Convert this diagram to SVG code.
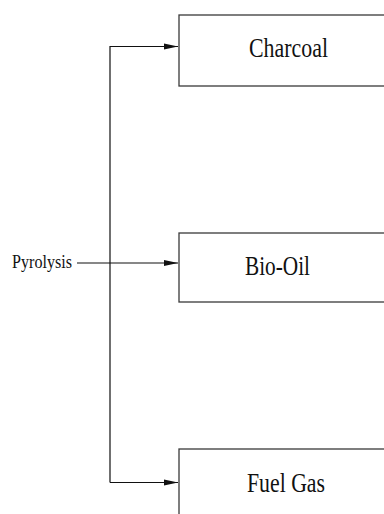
<svg xmlns="http://www.w3.org/2000/svg" width="384" height="514" viewBox="0 0 384 514">
<defs>
<style>
.box{fill:#fff;stroke:#3a3a3a;stroke-width:1.3}
.lbl{font-family:"Liberation Serif","Times New Roman",serif;font-size:27px;fill:#111}
.src{font-family:"Liberation Serif","Times New Roman",serif;font-size:19px;fill:#111}
.ln{fill:none;stroke:#111;stroke-width:1.2}
</style>
<marker id="ah" markerWidth="14" markerHeight="7" refX="14" refY="3.5" orient="auto" markerUnits="userSpaceOnUse">
<path d="M0,0.5 L14,3.5 L0,6.5 Z" fill="#111"/>
</marker>
</defs>
<rect width="384" height="514" fill="#fff"/>
<g id="charcoal">
<rect class="box" x="179" y="15" width="220" height="71"/>
<text class="lbl" x="249" y="57" textLength="79" lengthAdjust="spacingAndGlyphs">Charcoal</text>
</g>
<g id="biooil">
<rect class="box" x="179" y="233" width="220" height="69"/>
<text class="lbl" x="245" y="275" textLength="65" lengthAdjust="spacingAndGlyphs">Bio-Oil</text>
</g>
<g id="fuelgas">
<rect class="box" x="179" y="449" width="220" height="80"/>
<text class="lbl" x="247" y="492" textLength="78" lengthAdjust="spacingAndGlyphs">Fuel Gas</text>
</g>
<g id="pyrolysis">
<text class="src" x="12" y="268" textLength="60" lengthAdjust="spacingAndGlyphs">Pyrolysis</text>
</g>
<g id="connectors">
<path class="ln" d="M110,482.5 L110,46.5 L178,46.5" marker-end="url(#ah)"/>
<path class="ln" d="M110,482.5 L178,482.5" marker-end="url(#ah)"/>
<path class="ln" d="M77,263 L178,263" marker-end="url(#ah)"/>
</g>
</svg>
